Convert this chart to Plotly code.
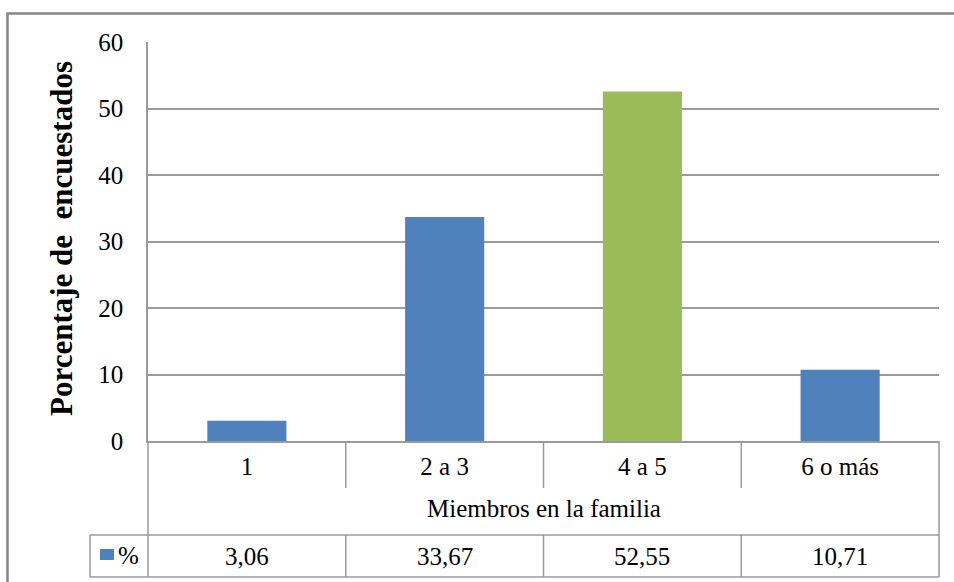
import plotly.graph_objects as go

# Household size survey: share of respondents per family-size group
categories = ["1", "2 a 3", "4 a 5", "6 o más"]
percentages = [3.06, 33.67, 52.55, 10.71]
value_labels = ["3,06", "33,67", "52,55", "10,71"]
bar_colors = ["#4F81BD", "#4F81BD", "#9BBB59", "#4F81BD"]
y_ticks = [0, 10, 20, 30, 40, 50, 60]

W, H = 954, 582
L, R, T, B = 148, 939, 42, 441  # plot area in pixels

FONT = "Liberation Serif, Times New Roman, serif"
FS = 25
LINE = "#9A9A9A"


def px(xp):
    return (xp - L) / (R - L)


def py(yp):
    return (B - yp) / (B - T)


fig = go.Figure(
    go.Bar(
        x=list(range(len(categories))),
        y=percentages,
        width=0.4,
        marker=dict(color=bar_colors, line=dict(width=0)),
        showlegend=False,
    )
)

shapes = []
# outer chart frame (runs past the right and bottom edges)
shapes.append(dict(type="rect", xref="paper", yref="paper",
                   x0=px(7.5), x1=px(970), y0=py(13.5), y1=py(600),
                   line=dict(color="#868686", width=2.5), layer="below"))


def hline(y, x0, x1):
    shapes.append(dict(type="line", xref="paper", yref="paper",
                       x0=px(x0), x1=px(x1), y0=py(y), y1=py(y),
                       line=dict(color=LINE, width=1.5)))


def vline_px(x, y0, y1):
    shapes.append(dict(type="line", xref="paper", yref="paper",
                       x0=px(x), x1=px(x), y0=py(y0), y1=py(y1),
                       line=dict(color=LINE, width=1.5)))


# data table grid under the axis
hline(535, 90, 939)
hline(577, 90, 939)
vline_px(90, 535, 577)
vline_px(148, 441, 577)
vline_px(939, 441, 577)
for i in range(len(categories) - 1):
    b = i + 0.5
    shapes.append(dict(type="line", xref="x", yref="paper",
                       x0=b, x1=b, y0=py(441), y1=py(488),
                       line=dict(color=LINE, width=1.5)))
    shapes.append(dict(type="line", xref="x", yref="paper",
                       x0=b, x1=b, y0=py(535), y1=py(577),
                       line=dict(color=LINE, width=1.5)))
# legend key square
shapes.append(dict(type="rect", xref="paper", yref="paper",
                   x0=px(100), x1=px(114), y0=py(560), y1=py(549),
                   fillcolor="#4F81BD", line=dict(width=0)))

annotations = []
# y-axis title
annotations.append(dict(text="<b>Porcentaje de  encuestados</b>", textangle=-90,
                        xref="paper", yref="paper", x=px(61), y=py(239),
                        showarrow=False, font=dict(family=FONT, size=31, color="black"),
                        xanchor="center", yanchor="middle"))
# x-axis title
annotations.append(dict(text="Miembros en la familia", xref="paper", yref="paper",
                        x=0.5, y=py(508), showarrow=False,
                        font=dict(family=FONT, size=FS, color="black"),
                        xanchor="center", yanchor="middle"))
# legend label
annotations.append(dict(text="%", xref="paper", yref="paper", x=px(116), y=py(555),
                        showarrow=False, font=dict(family=FONT, size=FS, color="black"),
                        xanchor="left", yanchor="middle"))
# table values
for i, lab in enumerate(value_labels):
    annotations.append(dict(text=lab, xref="x", yref="paper", x=i, y=py(556),
                            showarrow=False, font=dict(family=FONT, size=FS, color="black"),
                            xanchor="center", yanchor="middle"))

fig.update_layout(
    width=W, height=H,
    margin=dict(l=L, r=W - R, t=T, b=H - B),
    paper_bgcolor="white", plot_bgcolor="white",
    shapes=shapes,
    annotations=annotations,
    font=dict(family=FONT, size=FS, color="black"),
    xaxis=dict(
        range=[-0.5, len(categories) - 0.5],
        tickmode="array", tickvals=list(range(len(categories))), ticktext=categories,
        showgrid=False, zeroline=False,
        showline=True, linecolor=LINE, linewidth=1.5,
        ticks="", ticklabelstandoff=2,
        tickfont=dict(family=FONT, size=FS, color="black"),
    ),
    yaxis=dict(
        range=[0, 60], tickvals=y_ticks,
        showgrid=True, gridcolor=LINE, gridwidth=1.5,
        zeroline=False,
        showline=True, linecolor=LINE, linewidth=1.5,
        ticks="", ticklabelstandoff=18,
        tickfont=dict(family=FONT, size=FS, color="black"),
    ),
)

fig.write_html("out.html")
